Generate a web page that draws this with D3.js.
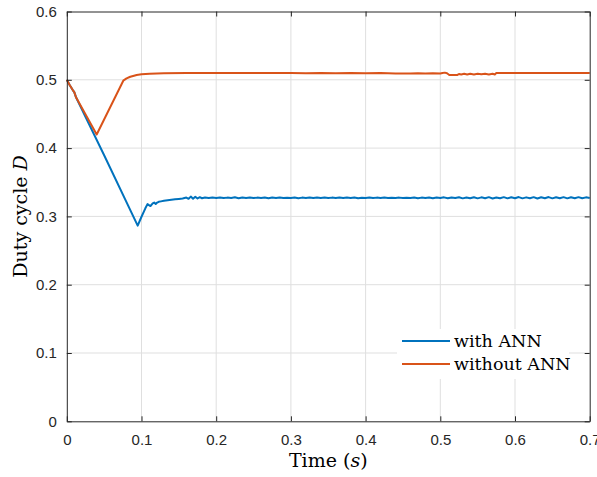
<!DOCTYPE html>
<html><head><meta charset="utf-8">
<script src="https://cdn.jsdelivr.net/npm/d3@7"></script>
<style>
html,body{margin:0;padding:0;background:#fff;}
svg{display:block;}
</style></head>
<body>
<svg id="chart" width="597" height="477"></svg>
<script>
// ---- data ----
const xTicks = [0, 0.1, 0.2, 0.3, 0.4, 0.5, 0.6, 0.7];
const xTickLabels = ["0", "0.1", "0.2", "0.3", "0.4", "0.5", "0.6", "0.7"];
const yTicks = [0, 0.1, 0.2, 0.3, 0.4, 0.5, 0.6];
const yTickLabels = ["0", "0.1", "0.2", "0.3", "0.4", "0.5", "0.6"];
const seriesNames = ["with ANN", "without ANN"];
const seriesColors = ["#0072BD", "#D95319"];

// with ANN: [time, duty]
const withANN = [
[0,0.500],[0.004,0.492],[0.008,0.485],[0.010,0.482],[0.0125,0.474],[0.050,0.3895],[0.0949,0.2864],
[0.100,0.2995],[0.105,0.3115],[0.108,0.3180],[0.110,0.3165],[0.112,0.3152],[0.115,0.3190],[0.117,0.3202],
[0.119,0.3182],[0.121,0.3203],[0.123,0.3214],[0.126,0.3220],[0.130,0.3228],[0.135,0.3236],[0.140,0.3243],
[0.145,0.3250],[0.150,0.3256],[0.155,0.3262],[0.160,0.3276],[0.163,0.3258],[0.166,0.3290],[0.169,0.3260],
[0.172,0.3288],[0.175,0.3262],[0.178,0.3282],[0.181,0.3266],[0.185,0.3277],[0.190,0.3268],[0.195,0.3276],
[0.200,0.3270],[0.205,0.3278],[0.210,0.3268],[0.215,0.3275],[0.220,0.3270],[0.225,0.3279],[0.230,0.3267],
[0.235,0.3276],[0.240,0.3270],[0.245,0.3277],[0.250,0.3268],[0.255,0.3275],[0.260,0.3271],[0.265,0.3278],
[0.270,0.3266],[0.275,0.3276],[0.280,0.3270],[0.285,0.3278],[0.290,0.3268],[0.295,0.3274],[0.300,0.3270],
[0.305,0.3277],[0.310,0.3267],[0.315,0.3275],[0.320,0.3271],[0.325,0.3278],[0.330,0.3268],[0.335,0.3276],
[0.340,0.3270],[0.345,0.3276],[0.350,0.3268],[0.355,0.3275],[0.360,0.3270],[0.365,0.3277],[0.370,0.3269],
[0.375,0.3275],[0.380,0.3271],[0.385,0.3278],[0.390,0.3267],[0.395,0.3274],[0.400,0.3270],[0.405,0.3277],
[0.410,0.3268],[0.415,0.3275],[0.420,0.3271],[0.425,0.3276],[0.430,0.3269],[0.435,0.3274],[0.440,0.3270],
[0.445,0.3275],[0.450,0.3268],[0.455,0.3274],[0.460,0.3271],[0.465,0.3277],[0.470,0.3267],[0.475,0.3275],
[0.480,0.3270],[0.485,0.3278],[0.490,0.3266],[0.495,0.3276],[0.500,0.3269],[0.505,0.3279],[0.510,0.3265],
[0.515,0.3277],[0.520,0.3268],[0.525,0.3280],[0.530,0.3264],[0.535,0.3278],[0.540,0.3267],[0.545,0.3281],
[0.550,0.3264],[0.555,0.3279],[0.560,0.3266],[0.565,0.3282],[0.570,0.3263],[0.575,0.3278],[0.580,0.3266],
[0.585,0.3282],[0.590,0.3264],[0.595,0.3280],[0.600,0.3266],[0.605,0.3283],[0.610,0.3264],[0.615,0.3279],
[0.620,0.3265],[0.625,0.3282],[0.630,0.3263],[0.635,0.3280],[0.640,0.3266],[0.645,0.3283],[0.650,0.3264],
[0.655,0.3281],[0.660,0.3265],[0.665,0.3282],[0.670,0.3264],[0.675,0.3280],[0.680,0.3266],[0.685,0.3282],
[0.690,0.3265],[0.695,0.3279],[0.700,0.3270]
];

// without ANN: [time, duty]
const withoutANN = [
[0,0.500],[0.004,0.492],[0.008,0.485],[0.010,0.482],[0.0125,0.474],[0.040,0.420],[0.0756,0.4987],
[0.080,0.5020],[0.085,0.5045],[0.090,0.5060],[0.0935,0.5070],[0.100,0.5080],[0.111,0.5090],[0.130,0.5095],
[0.160,0.5098],[0.200,0.5100],[0.250,0.5100],[0.300,0.5099],[0.320,0.5096],[0.340,0.5099],[0.360,0.5095],
[0.380,0.5099],[0.400,0.5096],[0.420,0.5098],[0.440,0.5094],[0.460,0.5093],[0.470,0.5096],[0.480,0.5092],
[0.490,0.5095],[0.500,0.5092],[0.503,0.5100],[0.506,0.5105],[0.509,0.5095],[0.512,0.5071],[0.520,0.5069],
[0.523,0.5071],[0.525,0.5085],[0.528,0.5078],[0.532,0.5088],[0.536,0.5079],[0.540,0.5088],[0.545,0.5078],
[0.550,0.5088],[0.555,0.5080],[0.560,0.5088],[0.565,0.5078],[0.570,0.5088],[0.573,0.5078],[0.575,0.5098],
[0.600,0.5099],[0.650,0.5099],[0.700,0.5100]
];

const seriesData = [withANN, withoutANN];

// ---- layout ----
const svg = d3.select("#chart");
const L = 66.8, R = 589.7, T = 11.5, B = 421.3;
const x = d3.scaleLinear().domain([0, 0.7]).range([L, R]);
const y = d3.scaleLinear().domain([0, 0.6]).range([B, T]);
const axisColor = "#262626";
const tickFont = "'Liberation Sans', Arial, Helvetica, sans-serif";
const serif = "'DejaVu Serif', serif";

// grid
const grid = svg.append("g");
grid.selectAll("line.gx").data(xTicks.slice(1, -1)).enter().append("line")
  .attr("x1", d => x(d)).attr("x2", d => x(d)).attr("y1", T).attr("y2", B)
  .attr("stroke", "#dfdfdf").attr("stroke-width", 1);
grid.selectAll("line.gy").data(yTicks.slice(1, -1)).enter().append("line")
  .attr("y1", d => y(d)).attr("y2", d => y(d)).attr("x1", L).attr("x2", R)
  .attr("stroke", "#dfdfdf").attr("stroke-width", 1);

// lines
const line = d3.line().x(d => x(d[0])).y(d => y(d[1]));
svg.append("g").selectAll("path").data(seriesData).enter().append("path")
  .attr("d", line).attr("fill", "none")
  .attr("stroke", (d, i) => seriesColors[i]).attr("stroke-width", 2)
  .attr("stroke-linejoin", "round");

// axes (box)
const tickLen = 5;
const xAxisB = d3.axisBottom(x).tickValues(xTicks).tickFormat((d, i) => xTickLabels[i]).tickSizeInner(-tickLen).tickSizeOuter(0).tickPadding(13);
const xAxisT = d3.axisTop(x).tickValues(xTicks).tickFormat("").tickSizeInner(-tickLen).tickSizeOuter(0);
const yAxisL = d3.axisLeft(y).tickValues(yTicks).tickFormat((d, i) => yTickLabels[i]).tickSizeInner(-tickLen).tickSizeOuter(0).tickPadding(10);
const yAxisR = d3.axisRight(y).tickValues(yTicks).tickFormat("").tickSizeInner(-tickLen).tickSizeOuter(0);

function styleAxis(g) {
  g.select(".domain").attr("stroke", axisColor).attr("stroke-width", 1);
  g.selectAll(".tick line").attr("stroke", axisColor).attr("stroke-width", 1);
  g.selectAll(".tick text").attr("fill", axisColor).style("font-family", tickFont).style("font-size", "15px");
}
svg.append("g").attr("transform", `translate(0,${B})`).call(xAxisB).call(styleAxis);
svg.append("g").attr("transform", `translate(0,${T})`).call(xAxisT).call(styleAxis);
svg.append("g").attr("transform", `translate(${L},0)`).call(yAxisL).call(styleAxis);
svg.append("g").attr("transform", `translate(${R},0)`).call(yAxisR).call(styleAxis);

// axis labels
const xl = svg.append("text").attr("x", (L + R) / 2).attr("y", 466.5).attr("text-anchor", "middle")
  .style("font-family", serif).style("font-size", "19px").attr("fill", "#000");
xl.append("tspan").text("Time (");
xl.append("tspan").style("font-style", "italic").text("s");
xl.append("tspan").text(")");

const yl = svg.append("text").attr("transform", `translate(26.5,${(T + B) / 2}) rotate(-90)`).attr("text-anchor", "middle")
  .style("font-family", serif).style("font-size", "19px").attr("fill", "#000");
yl.append("tspan").text("Duty cycle ");
yl.append("tspan").style("font-style", "italic").text("D");

// legend
const lg = svg.append("g");
lg.append("rect").attr("x", 397).attr("y", 329).attr("width", 172).attr("height", 50).attr("fill", "#fff");
const legY = [341, 364];
seriesNames.forEach((name, i) => {
  lg.append("line").attr("x1", 402).attr("x2", 450).attr("y1", legY[i]).attr("y2", legY[i])
    .attr("stroke", seriesColors[i]).attr("stroke-width", 2);
  lg.append("text").attr("x", 454).attr("y", legY[i] + 5.5).text(name)
    .style("font-family", serif).style("font-size", "17.5px").attr("fill", "#000");
});
</script>
</body></html>
